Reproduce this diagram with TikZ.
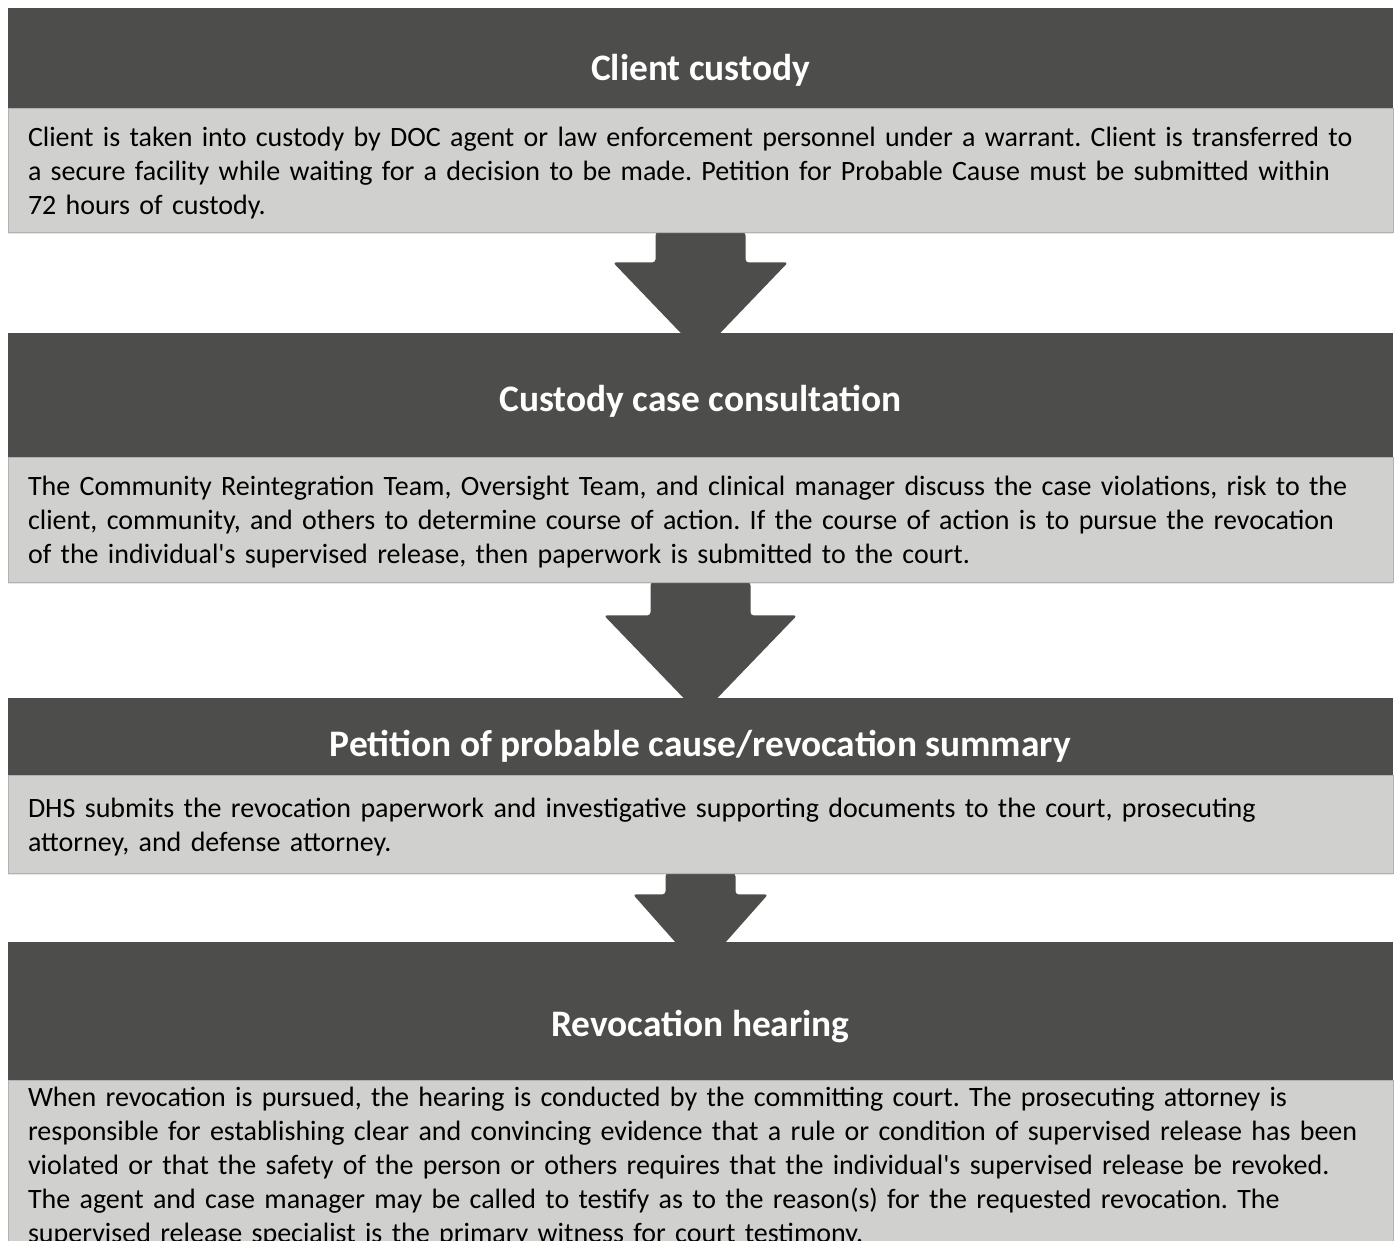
\documentclass[tikz,border=0pt]{standalone}
\usepackage{fontspec}
\setmainfont{Carlito}
\usetikzlibrary{calc,backgrounds,shadows}

\definecolor{headgray}{RGB}{77,77,75}
\definecolor{bodygray}{RGB}{208,208,206}

\tikzset{
  stagehead/.style={fill=headgray, minimum width=692.5pt, inner sep=0pt},
  stagebody/.style={fill=bodygray, draw=black!30, line width=0.4pt,
    minimum width=692.5pt, text width=672.5pt, align=left, inner sep=0pt,
    font=\fontsize{14}{17}\selectfont\frenchspacing,
    execute at begin node={\rule{0pt}{\dimexpr\fontcharht\font`\l+3pt\relax}},
    drop shadow={shadow xshift=0pt, shadow yshift=-1.2pt, opacity=0.2}},
  stagetitle/.style={text=white, anchor=base, inner sep=0pt,
    font=\fontsize{18.7}{22}\selectfont\bfseries},
}

% block arrow: from, to, stem half width, stem length, head half width, overlap
\newcommand{\stagearrow}[6]{%
  \fill[headgray, rounded corners=1.5pt]
    ($(#1.south)+(-#3,0)$) -- ($(#1.south)+(-#3,#4)$)
    -- ($(#1.south)+(-#5,#4)$) -- ($(#2.north)+(0,#6)$)
    -- ($(#1.south)+(#5,#4)$) -- ($(#1.south)+(#3,#4)$)
    -- ($(#1.south)+(#3,0)$) -- cycle;
}

\begin{document}
\begin{tikzpicture}[x=0.5pt, y=-0.5pt]
\useasboundingbox (0,0) rectangle (1397,1241);

% client custody
\node[stagehead, minimum height=50pt] (head1) at (700.5,58) {};
\node[stagetitle] (title1) at (700.5,81) {Client custody};
\node[stagebody, minimum height=62pt] (body1) at (700.5,170) {Client is taken into custody by DOC agent or law enforcement personnel under a warrant. Client is transferred to\\
a secure facility while waiting for a decision to be made. Petition for Probable Cause must be submitted within\\
72 hours of custody.};

% consultation
\node[stagehead, minimum height=62pt] (head2) at (700.5,395) {};
\node[stagetitle] (title2) at (700.5,411.5) {Custody case consultation};
\node[stagebody, minimum height=62.5pt] (body2) at (700.5,519.5) {The Community Reintegration Team, Oversight Team, and clinical manager discuss the case violations, risk to the\\
client, community, and others to determine course of action. If the course of action is to pursue the revocation\\
of the individual\textquotesingle s supervised release, then paperwork is submitted to the court.};

% petition
\node[stagehead, minimum height=38.5pt] (head3) at (700.5,736.5) {};
\node[stagetitle] (title3) at (700.5,756.5) {Petition of probable cause/revocation summary};
\node[stagebody, minimum height=49pt] (body3) at (700.5,824) {DHS submits the revocation paperwork and investigative supporting documents to the court, prosecuting\\
attorney, and defense attorney.};

% hearing
\node[stagehead, minimum height=69pt] (head4) at (700.5,1011) {};
\node[stagetitle] (title4) at (700.5,1036.5) {Revocation hearing};
\node[stagebody, minimum height=84pt] (body4) at (700.5,1164) {When revocation is pursued, the hearing is conducted by the committing court. The prosecuting attorney is\\
responsible for establishing clear and convincing evidence that a rule or condition of supervised release has been\\
violated or that the safety of the person or others requires that the individual\textquotesingle s supervised release be revoked.\\
The agent and case manager may be called to testify as to the reason(s) for the requested revocation. The\\
supervised release specialist is the primary witness for court testimony.};

\begin{scope}[on background layer]
\stagearrow{body1}{head2}{45}{30}{87.5}{21}
\stagearrow{body2}{head3}{50}{33}{96.5}{18}
\stagearrow{body3}{head4}{35}{21}{67.5}{29}
\end{scope}
\end{tikzpicture}
\end{document}
